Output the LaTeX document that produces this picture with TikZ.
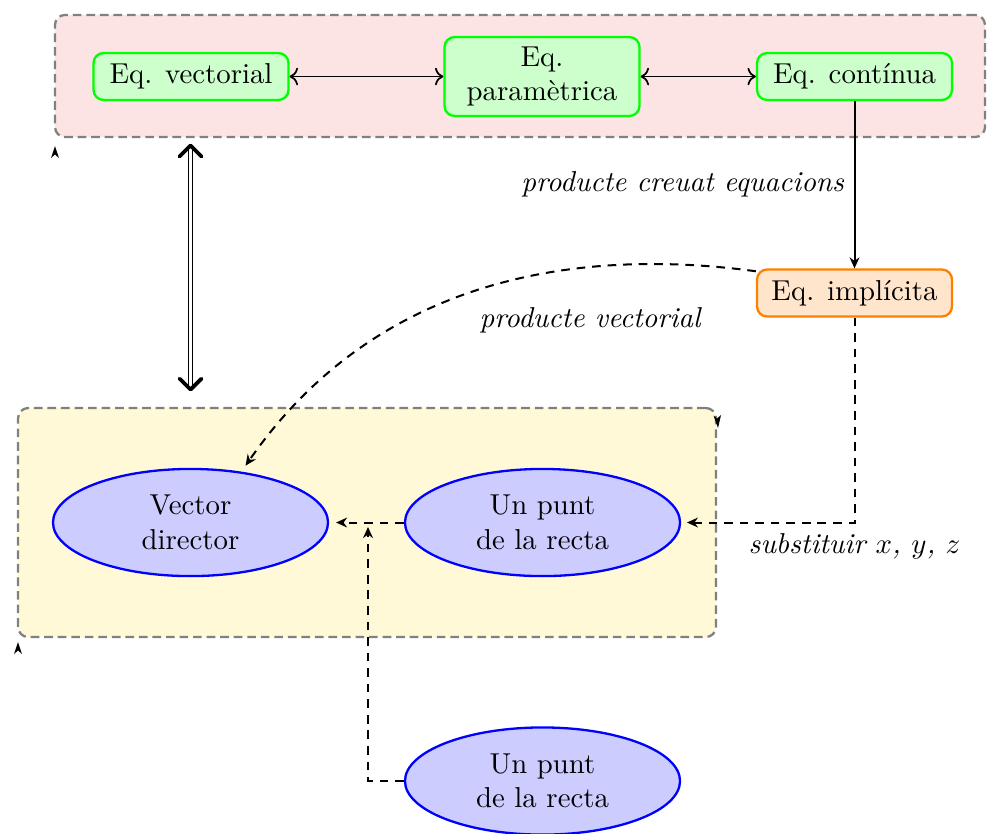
\documentclass[tikz,border=0pt]{standalone}
\usetikzlibrary{arrows.meta,shapes.geometric,calc}
\definecolor{pinkbg}{RGB}{253,228,228}
\definecolor{yellowbg}{RGB}{255,249,215}
\begin{document}
\begin{tikzpicture}[x=0.3472pt,y=-0.3472pt,
  eqbox/.style={draw=green, fill=green!20, thick, rounded corners=3.5pt,
    minimum width=67.7pt, minimum height=16.3pt, align=center},
  impbox/.style={eqbox, draw=orange, fill=orange!20},
  ptell/.style={ellipse, draw=blue, fill=blue!20, thick, minimum width=95.5pt,
    minimum height=37.2pt, inner sep=0pt, align=center},
  groupbox/.style={draw=gray, thick, dash pattern=on 3pt off 1.7pt, rounded corners=3.5pt, inner sep=0pt},
  conn/.style={line width=0.7pt, -{Stealth[length=3.8pt,width=3.4pt,inset=1.2pt]}},
  dconn/.style={conn, dash pattern=on 3pt off 2.4pt},
  twoway/.style={semithick, <->},
  lbl/.style={font=\itshape},
  stray/.style={fill=black},
  chevron/.style={line width=1.3pt, line cap=round, line join=round}
]
\useasboundingbox (0,0) rectangle (987,833);
% group boxes
\node[groupbox, fill=pinkbg, minimum width=322.9pt, minimum height=42.4pt] (top) at (520,76) {};
\node[groupbox, fill=yellowbg, minimum width=242.3pt, minimum height=79.5pt] (yel) at (367,522.5) {};
% stray arrow tips
\fill[stray] (55,146) -- (59,158) -- (55,154.5) -- (51,158) -- cycle;
\fill[stray] (18,642) -- (22,654) -- (18,650.5) -- (14,654) -- cycle;
\fill[stray] (718,428) -- (721,415) -- (717,418.5) -- (713.5,415.5) -- cycle;
% nodes
\node[eqbox] (vec) at (191,76.5) {Eq. vectorial};
\node[eqbox] (par) at (542,76.5) {Eq.\\ paramètrica};
\node[eqbox] (cont) at (854.5,76.5) {Eq. contínua};
\node[impbox] (imp) at (854.5,293) {Eq. implícita};
\node[ptell] (vd) at (190.5,522.5) {Vector\\ director};
\node[ptell] (up1) at (542.5,522.5) {Un punt\\ de la recta};
\node[ptell] (up2) at (542.5,781) {Un punt\\ de la recta};
\coordinate (jn) at (368,527);
\coordinate (dtop) at ([yshift=-2.5pt]top.south -| vd.center);
\coordinate (dbot) at ([yshift=6pt]yel.north -| vd.center);
% connectors
\draw[twoway] (vec) -- (par);
\draw[twoway] (par) -- (cont);
\draw[conn] (cont) -- node[lbl, left] {producte creuat equacions} (imp);
\draw[double, line width=0.65pt, double distance=0.7pt, shorten <=0.6pt, shorten >=0.6pt] (dtop) -- (dbot);
\draw[chevron] ($(dtop)+(-11,11)$) -- (dtop) -- ($(dtop)+(11,11)$);
\draw[chevron] ($(dbot)+(-11,-11)$) -- (dbot) -- ($(dbot)+(11,-11)$);
\draw[dconn, shorten >=2.5pt] ([yshift=-1pt]imp.north west) .. controls (600,250) and (385,265) .. (vd.45);
\node[lbl] (pvlbl) at (590,320) {producte vectorial};
\draw[dconn, shorten >=2pt] (imp.south) |- node[lbl, below] {substituir $x$, $y$, $z$} (up1.east);
\draw[dconn, shorten >=2.4pt] (up1.west) -- (vd.east);
\draw[dconn] (up2.west) -| (jn);
\end{tikzpicture}
\end{document}
